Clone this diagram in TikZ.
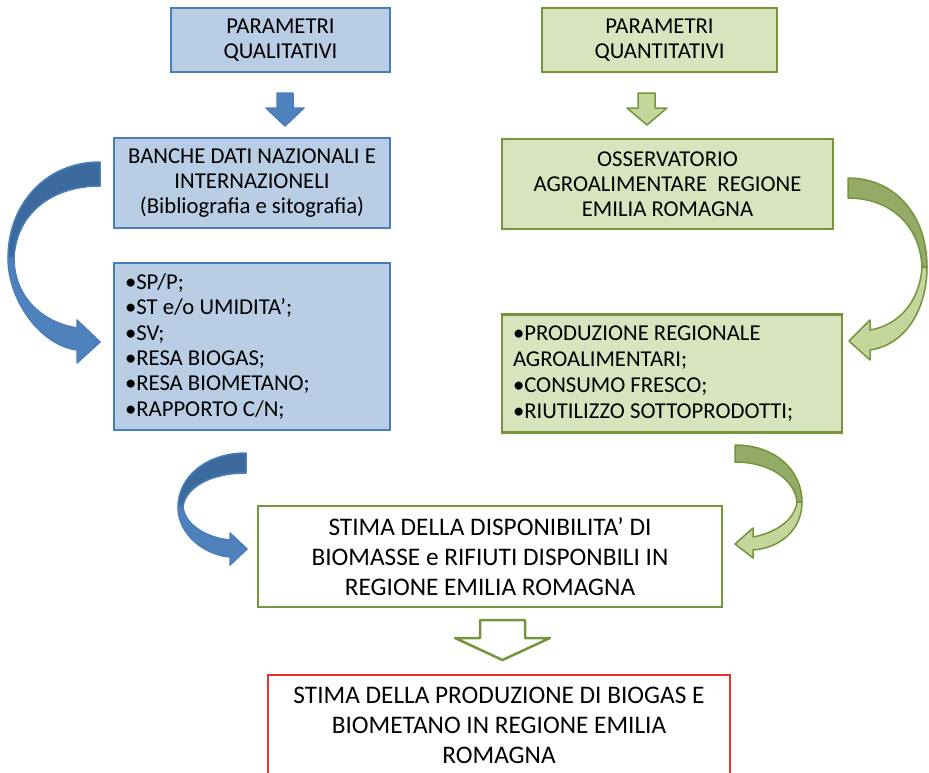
\documentclass[tikz,border=0pt]{standalone}
\usepackage{fontspec}
\setmainfont{Carlito}
\usepackage{xcolor}
\usepackage{tikz}

\definecolor{qualfill}{HTML}{B9CDE5}
\definecolor{qualline}{HTML}{4A7EBB}
\definecolor{qualdark}{HTML}{3C6A9C}
\definecolor{qualmid}{HTML}{4F81BD}
\definecolor{quanfill}{HTML}{D7E4BD}
\definecolor{quanline}{HTML}{77933C}
\definecolor{quandark}{HTML}{94AB68}
\definecolor{quanmid}{HTML}{C3D69B}
\definecolor{stimared}{HTML}{EE3030}

\begin{document}
\begin{tikzpicture}[x=1pt,y=1pt]
\tikzstyle{every node}+=[inner sep=0pt]
\tikzstyle{qual}=[draw=qualline, fill=qualfill, line width=2.8pt, align=center, font=\fontsize{22.7}{25}\selectfont]
\tikzstyle{quan}=[draw=quanline, fill=quanfill, line width=2.8pt, align=center, font=\fontsize{22.7}{25}\selectfont]
\tikzstyle{stima}=[draw=quanline, fill=white, line width=2.8pt, align=center, font=\fontsize{25.3}{30}\selectfont]
\tikzstyle{bluearrow}=[draw=qualline, line width=1.5pt, line join=round]
\tikzstyle{greenarrow}=[draw=quanline, line width=1.5pt, line join=round]
\useasboundingbox (0,0) rectangle (929,-772);

% boxes
\node [qual, minimum width=219pt, minimum height=64pt] (pql) at (280.5,-40) {PARAMETRI\\QUALITATIVI};
\node [quan, minimum width=235pt, minimum height=64pt] (pqn) at (659.5,-40) {PARAMETRI\\QUANTITATIVI};
\node [qual, minimum width=276pt, minimum height=90pt] (banche) at (252,-183) {BANCHE DATI NAZIONALI E\\INTERNAZIONELI\\(Bibliografia e sitografia)};
\node [quan, minimum width=331pt, minimum height=90pt] (osserv) at (667.5,-184) {OSSERVATORIO\\AGROALIMENTARE\ \ REGIONE\\EMILIA ROMAGNA};
\node [qual, align=flush left, inner sep=11pt, text width=254pt, minimum height=167pt, font=\fontsize{22.7}{25.3}\selectfont] (listqual) at (252,-346.5) {•SP/P;\\•ST e/o UMIDITA’;\\•SV;\\•RESA BIOGAS;\\•RESA BIOMETANO;\\•RAPPORTO C/N;};
\node [quan, align=flush left, inner sep=11pt, text width=318pt, minimum height=117pt, font=\fontsize{22.7}{26}\selectfont] (listquan) at (672,-373.5) {•PRODUZIONE REGIONALE\\AGROALIMENTARI;\\•CONSUMO FRESCO;\\•RIUTILIZZO SOTTOPRODOTTI;};
\node [stima, minimum width=464pt, minimum height=101pt] (disp) at (490,-556.5) {STIMA DELLA DISPONIBILITA’\ DI\\BIOMASSE e RIFIUTI DISPONBILI IN\\REGIONE EMILIA ROMAGNA};
\node [stima, draw=stimared, minimum width=462pt, minimum height=101pt] (prod) at (499,-725.5) {STIMA DELLA PRODUZIONE DI BIOGAS E\\BIOMETANO IN REGIONE EMILIA\\ROMAGNA};

% straight block arrows
\draw [bluearrow, fill=qualmid] (277,-93) -- (293,-93) -- (293,-108) -- (304,-108) -- (285,-126) -- (266,-108) -- (277,-108) -- cycle;
\draw [greenarrow, fill=quanmid] (638,-93) -- (655,-93) -- (655,-108) -- (667,-108) -- (647,-125) -- (627,-108) -- (638,-108) -- cycle;
\draw [greenarrow, line width=2.5pt, fill=white] (480,-620) -- (525,-620) -- (525,-638) -- (550,-638) -- (502.5,-660) -- (455,-638) -- (480,-638) -- cycle;

% curved arrows, left
\draw [bluearrow, fill=qualdark] (100,-162) .. controls (45,-162) and (8,-205) .. (8,-258) -- (14,-258) .. controls (16,-215) and (50,-186) .. (100,-186) -- cycle;
\draw [bluearrow, fill=qualmid] (8,-258) .. controls (8,-300) and (40,-345) .. (77,-350) -- (77,-363) -- (100,-342) -- (77,-320) -- (77,-328) .. controls (40,-322) and (14,-295) .. (14,-258) -- cycle;
\draw [bluearrow, fill=qualdark] (246,-453) .. controls (205,-453) and (178,-478) .. (178,-507) -- (183,-507) .. controls (185,-488) and (210,-473) .. (246,-473) -- cycle;
\draw [bluearrow, fill=qualmid] (178,-507) .. controls (178,-535) and (205,-555) .. (230,-557) -- (230,-565) -- (247,-549) -- (230,-533) -- (230,-540) .. controls (207,-538) and (185,-525) .. (183,-507) -- cycle;

% curved arrows, right
\draw [greenarrow, fill=quandark] (848,-178) .. controls (895,-178) and (927,-215) .. (927,-267) -- (922,-267) .. controls (920,-225) and (890,-198) .. (848,-198) -- cycle;
\draw [greenarrow, fill=quanmid] (927,-267) .. controls (927,-310) and (905,-345) .. (870,-350) -- (870,-360) -- (849,-341) -- (870,-320) -- (870,-330) .. controls (900,-325) and (920,-300) .. (922,-267) -- cycle;
\draw [greenarrow, fill=quandark] (735,-445) .. controls (775,-445) and (802,-470) .. (802,-502) -- (797,-502) .. controls (795,-480) and (770,-462) .. (735,-462) -- cycle;
\draw [greenarrow, fill=quanmid] (802,-502) .. controls (802,-530) and (780,-548) .. (753,-550) -- (753,-558) -- (735,-544) -- (753,-528) -- (753,-537) .. controls (775,-533) and (795,-520) .. (797,-502) -- cycle;
\end{tikzpicture}
\end{document}
